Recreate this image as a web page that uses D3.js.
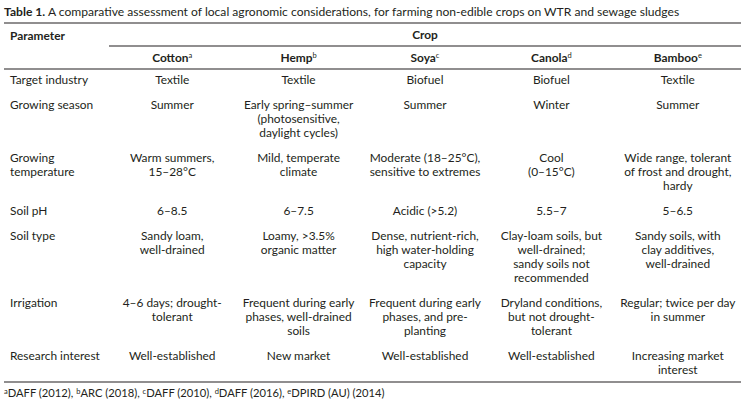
<!DOCTYPE html>
<html>
<head>
<meta charset="utf-8">
<script src="https://cdn.jsdelivr.net/npm/d3@7"></script>
<style>
  html, body { margin: 0; padding: 0; background: #fff; }
  svg { display: block; }
  text { font-family: Lato, "Open Sans", sans-serif; fill: #231f20; }
</style>
</head>
<body>
<svg id="chart" width="754" height="406"></svg>
<script>
// ---- data ----
const titleBold = "Table 1.";
const titleRest = " A comparative assessment of local agronomic considerations, for farming non-edible crops on WTR and sewage sludges";
const paramHeader = "Parameter";
const groupHeader = "Crop";
const crops = ["Cotton", "Hemp", "Soya", "Canola", "Bamboo"];
const cropNotes = ["a", "b", "c", "d", "e"];
const parameters = [
  ["Target industry"],
  ["Growing season"],
  ["Growing", "temperature"],
  ["Soil pH"],
  ["Soil type"],
  ["Irrigation"],
  ["Research interest"]
];
const cotton = [
  ["Textile"],
  ["Summer"],
  ["Warm summers,", "15–28°C"],
  ["6–8.5"],
  ["Sandy loam,", "well-drained"],
  ["4–6 days; drought-", "tolerant"],
  ["Well-established"]
];
const hemp = [
  ["Textile"],
  ["Early spring–summer", "(photosensitive,", "daylight cycles)"],
  ["Mild, temperate", "climate"],
  ["6–7.5"],
  ["Loamy, >3.5%", "organic matter"],
  ["Frequent during early", "phases, well-drained", "soils"],
  ["New market"]
];
const soya = [
  ["Biofuel"],
  ["Summer"],
  ["Moderate (18–25°C),", "sensitive to extremes"],
  ["Acidic (>5.2)"],
  ["Dense, nutrient-rich,", "high water-holding", "capacity"],
  ["Frequent during early", "phases, and pre-", "planting"],
  ["Well-established"]
];
const canola = [
  ["Biofuel"],
  ["Winter"],
  ["Cool", "(0–15°C)"],
  ["5.5–7"],
  ["Clay-loam soils, but", "well-drained;", "sandy soils not", "recommended"],
  ["Dryland conditions,", "but not drought-", "tolerant"],
  ["Well-established"]
];
const bamboo = [
  ["Textile"],
  ["Summer"],
  ["Wide range, tolerant", "of frost and drought,", "hardy"],
  ["5–6.5"],
  ["Sandy soils, with", "clay additives,", "well-drained"],
  ["Regular; twice per day", "in summer"],
  ["Increasing market", "interest"]
];
const footRefs = ["DAFF (2012)", "ARC (2018)", "DAFF (2010)", "DAFF (2016)", "DPIRD (AU) (2014)"];

const columns = [cotton, hemp, soya, canola, bamboo];

// ---- layout ----
const svg = d3.select("#chart");
const left = 4, right = 741, colStart = 109;
const fs = 11.9, lineH = 14, rowGap = 25;

const x = d3.scaleBand().domain(crops).range([colStart, right]);

// title
const title = svg.append("text").attr("x", left).attr("y", 16).style("font-size", "12.1px");
title.append("tspan").attr("font-weight", "bold").text(titleBold);
title.append("tspan").text(titleRest);

// rules
const rule = (x1, x2, y) => svg.append("line").attr("x1", x1).attr("x2", x2)
  .attr("y1", y).attr("y2", y).attr("stroke", "#231f20").attr("stroke-width", 1.1);

rule(left, right, 23);
rule(colStart, right, 46);
rule(left, right, 69);

// headers
svg.append("text").attr("x", 10).attr("y", 39.5).attr("font-weight", "bold")
  .style("font-size", fs + "px").text(paramHeader);
svg.append("text").attr("x", (colStart + right) / 2).attr("y", 38.5).attr("text-anchor", "middle")
  .attr("font-weight", "bold").style("font-size", fs + "px").text(groupHeader);

const heads = svg.selectAll("text.crop").data(crops).join("text")
  .attr("class", "crop")
  .attr("x", d => x(d) + x.bandwidth() / 2)
  .attr("y", 62)
  .attr("text-anchor", "middle")
  .attr("font-weight", "bold")
  .style("font-size", fs + "px");
heads.append("tspan").text(d => d);
heads.append("tspan").attr("dy", -4).style("font-size", "7.5px").attr("font-weight", "normal")
  .text((d, i) => cropNotes[i]);

// row positions
const rowLines = parameters.map((p, i) => Math.max(p.length, ...columns.map(c => c[i].length)));
const rowY = [];
let yy = 84;
rowLines.forEach((n, i) => { rowY.push(yy); yy += (n - 1) * lineH + rowGap; });

// parameter column
parameters.forEach((lines, i) => {
  const t = svg.append("text").attr("x", 10).attr("y", rowY[i]).style("font-size", fs + "px");
  t.selectAll("tspan").data(lines).join("tspan")
    .attr("x", 10).attr("y", (d, j) => rowY[i] + j * lineH).text(d => d);
});

// crop cells
columns.forEach((col, ci) => {
  const cx = x(crops[ci]) + x.bandwidth() / 2;
  col.forEach((lines, ri) => {
    const t = svg.append("text").attr("text-anchor", "middle").style("font-size", fs + "px");
    t.selectAll("tspan").data(lines).join("tspan")
      .attr("x", cx).attr("y", (d, j) => rowY[ri] + j * lineH).text(d => d);
  });
});

// bottom rule
rule(left, right, 382);

// footnote
const foot = svg.append("text").attr("x", left).attr("y", 397).style("font-size", "11.2px");
footRefs.forEach((r, i) => {
  foot.append("tspan").attr("dy", -3.5).style("font-size", "7.5px").text(cropNotes[i]);
  foot.append("tspan").attr("dy", 3.5).text(r + (i < footRefs.length - 1 ? ", " : ""));
});
</script>
</body>
</html>
